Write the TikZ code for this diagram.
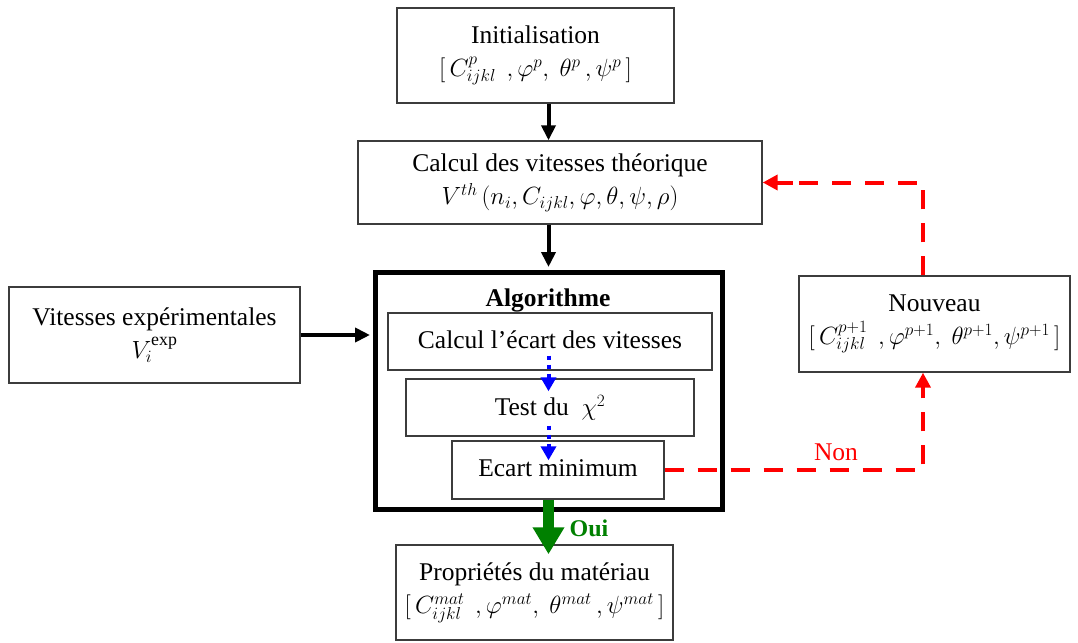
\documentclass[tikz,border=0pt]{standalone}
\usepackage{fontspec}
\setmainfont{Liberation Serif}
\usetikzlibrary{arrows.meta,calc}
\definecolor{boxgray}{RGB}{60,60,60}
\definecolor{okgreen}{RGB}{0,128,0}
\tikzset{
  box/.style={draw=boxgray,line width=1.4pt,minimum width=#1,inner sep=0pt,align=center,font=\fontsize{25.5}{33}\selectfont},
  blackarrow/.style={line width=4pt,-{Triangle[length=15pt,width=14pt]}},
  bluearrow/.style={blue,line width=4pt,dash pattern=on 4.5pt off 4.5pt,-{Triangle[length=14pt,width=15pt]}},
  greenarrow/.style={okgreen,line width=11pt,-{Triangle[length=27pt,width=30pt]}},
  redarrow/.style={red,line width=4pt,dash pattern=on 19pt off 14pt,-{Triangle[length=15pt,width=15pt]}},
  redline/.style={red,line width=4pt,dash pattern=on 19pt off 14pt},
}
\begin{document}
\begin{tikzpicture}[x=1pt,y=-1pt]
\useasboundingbox (0,0) rectangle (1078,642);
\node[box=277pt,minimum height=95pt] (init) at (535.5,55.5)
  {Initialisation\\$[\,C^{p}_{ijkl}\ \,,\varphi^{p},\ \theta^{p}\,,\psi^{p}\,]$};
\node[box=404pt,minimum height=83pt] (calc) at (560,182.5)
  {Calcul des vitesses théorique\\$V^{th}\left(n_i,C_{ijkl},\varphi,\theta,\psi,\rho\right)$};
\node[draw,line width=5pt,minimum width=347pt,minimum height=237pt,inner sep=0pt] (algo) at (548.5,390.5) {};
\node[font=\fontsize{25.5}{28}\selectfont\bfseries,inner sep=0pt] (algt) at (548,300) {Algorithme};
\node[box=324pt,minimum height=57pt] (b1) at (550,341.5) {\raisebox{4pt}{Calcul l’écart des vitesses}};
\node[box=288pt,minimum height=57pt] (b2) at (550,407.5) {Test du $\ \chi^2$};
\node[box=212pt,minimum height=58pt] (b3) at (558,470) {\raisebox{4pt}{Ecart minimum}};
\node[box=291pt,minimum height=96pt] (vit) at (154.5,335)
  {Vitesses expérimentales\\$V_i^{\mathrm{exp}}$};
\node[box=271pt,minimum height=96pt] (nouv) at (934.5,324)
  {Nouveau\\$[\,C^{p+1}_{ijkl}\ \,,\varphi^{p+1},\ \theta^{p+1},\psi^{p+1}\,]$};
\node[box=277pt,minimum height=95pt] (prop) at (534.5,592.5)
  {Propriétés du matériau\\$[\,C^{mat}_{ijkl}\ \,,\varphi^{mat},\ \theta^{mat}\,,\psi^{mat}\,]$};
\coordinate (rx) at (923,0);
% black arrows
\draw[blackarrow] (init.south -| algo.north) -- (calc.north -| algo.north);
\draw[blackarrow] (calc.south -| algo.north) -- ($(algo.north)+(0,-2.5)$);
\draw[blackarrow] (vit.east) -- ($(algo.west |- vit.east)+(-2.5,0)$);
% blue dotted
\draw[bluearrow] ($(b1.south -| algo.center)+(0,-15)$) -- ($(b2.north -| algo.center)+(0,13)$);
\draw[bluearrow] ($(b2.south -| algo.center)+(0,-11)$) -- ($(b3.north -| algo.center)+(0,20)$);
% green
\draw[greenarrow] (b3.south -| algo.center) -- ($(prop.north -| algo.center)+(0,10)$);
\node[okgreen,font=\fontsize{24}{26}\selectfont\bfseries,inner sep=0pt] (oui) at (589,528) {Oui};
% red
\draw[redline] (b3.east) -- (b3.east -| rx) -- ($(nouv.south -| rx)+(0,22)$);
\draw[redarrow] ($(nouv.south -| rx)+(0,22)$) -- (nouv.south -| rx);
\node[red,font=\fontsize{25.5}{28}\selectfont,inner sep=0pt] (non) at (836,452) {Non};
\draw[redline] (nouv.north -| rx) -- (rx |- calc.east) -- ($(calc.east)+(30,0)$);
\draw[redarrow] ($(calc.east)+(30,0)$) -- (calc.east);
\end{tikzpicture}
\end{document}
